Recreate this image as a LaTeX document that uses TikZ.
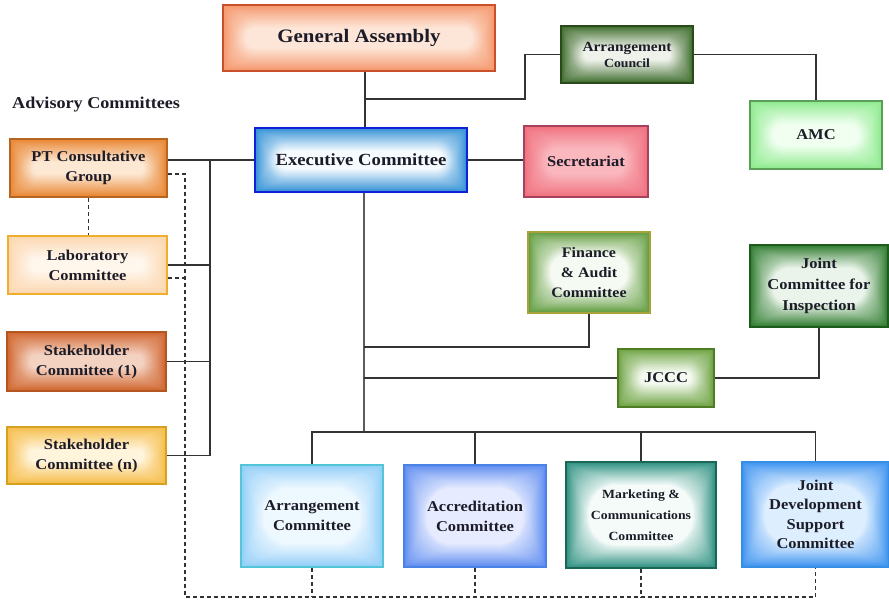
\documentclass[tikz,border=0pt]{standalone}
\usepackage{fontspec}
\setmainfont{Liberation Serif}[FakeStretch=1.1]

% colours: ink for text, linec for connectors
\definecolor{ink}{HTML}{1C1C28}
\definecolor{linec}{HTML}{333333}
\colorlet{glowin}{white}
\colorlet{glowout}{gray}
\colorlet{glowline}{black}

% soft glow: nested rounded rectangles fading from the edge colour to a pale centre
\newdimen\glowh
\newcommand\glowfill{%
  \pgfextracty{\glowh}{\pgfpointdiff{\pgfpointanchor{path picture bounding box}{south west}}%
                                    {\pgfpointanchor{path picture bounding box}{north east}}}%
  \fill[glowout] (path picture bounding box.south west) rectangle (path picture bounding box.north east);
  \pgfmathsetmacro{\gstep}{min(0.95,(\glowh/2-6)/24)}%
  \foreach \gi in {1,...,24}{%
    \pgfmathsetmacro{\gd}{\gi*\gstep}%
    \pgfmathsetmacro{\gr}{min(1.6*\gd,0.9*(\glowh/2-\gd))}%
    \pgfmathsetmacro{\gp}{100*(1-(\gi/24)^0.9)}%
    \fill[glowout!\gp!glowin, rounded corners=\gr pt]
      ([shift={(\gd pt,\gd pt)}]path picture bounding box.south west) rectangle
      ([shift={(-\gd pt,-\gd pt)}]path picture bounding box.north east);
  }%
}

\tikzset{
  box/.style n args={3}{
    /utils/exec={\definecolor{glowin}{HTML}{#1}\definecolor{glowout}{HTML}{#2}\definecolor{glowline}{HTML}{#3}},
    draw=glowline, line width=1.8pt,
    path picture={\glowfill}, align=center, text=ink, inner sep=2pt,
    font=\bfseries\fontsize{15}{20}\selectfont},
  conn/.style={draw=linec, line width=1.3pt},
  dashline/.style={draw=linec, line width=1.2pt, dash pattern=on 4pt off 3pt},
}

\begin{document}
\begin{tikzpicture}[x=1pt,y=-1pt]
\useasboundingbox (0,0) rectangle (889,600);
\fill[white] (0,0) rectangle (889,600);

% ---- top level ----
\node[box={FDE6D8}{F5956A}{C9502A}, line width=2.2pt, minimum width=272pt, minimum height=66pt,
      font=\bfseries\fontsize{19}{22}\selectfont] (ga) at (359,38) {General Assembly};
\node[box={EEF2EA}{3D6B2B}{2B4A1B}, minimum width=132pt, minimum height=57pt,
      font=\bfseries\fontsize{14}{16}\selectfont] (ac) at (627,54.5)
      {Arrangement\\{\fontsize{12.5}{16}\selectfont Council}};
\node[box={F0FFF0}{8BEA8B}{5A9E5A}, minimum width=132pt, minimum height=68pt] (amc) at (816,135) {AMC};
\node[box={F6FBFF}{2F8FD6}{1020D8}, line width=2.6pt, minimum width=212pt, minimum height=64pt,
      font=\bfseries\fontsize{17}{20}\selectfont] (exec) at (361,160) {Executive Committee};
\node[box={FAB8BE}{EF6F7D}{A8405E}, minimum width=124pt, minimum height=71pt] (sec) at (586,161.5) {Secretariat};

% ---- advisory committees ----
\node[font=\bfseries\fontsize{16.5}{18}\selectfont, text=ink, anchor=base west, inner sep=0pt]
      (adv) at (12,108) {Advisory Committees};
\node[box={FDE8D4}{E8842F}{B8651F}, minimum width=157pt, minimum height=58pt] (pt) at (88.5,168) {PT Consultative\\Group};
\node[box={FFF6EC}{FCD6AE}{F0AE2E}, minimum width=159pt, minimum height=58pt] (lab) at (87.5,265) {Laboratory\\Committee};
\node[box={F4D2C2}{D0642C}{B4561F}, minimum width=159pt, minimum height=59pt] (sh1) at (86.5,361.5) {Stakeholder\\Committee (1)};
\node[box={FFF4DC}{F6BC46}{D6A11E}, minimum width=159pt, minimum height=57pt] (shn) at (86.5,455.5) {Stakeholder\\Committee (n)};

% ---- committees on the right ----
\node[box={F5FAF2}{5E9A3A}{A8A23A}, minimum width=122pt, minimum height=81pt,
      font=\bfseries\fontsize{14.5}{20}\selectfont] (fin) at (589,272.5) {Finance\\\& Audit\\Committee};
\node[box={EAF4EA}{2C7A2C}{1D5C1D}, minimum width=138pt, minimum height=82pt,
      font=\bfseries\fontsize{15}{21}\selectfont] (jci) at (819,286) {Joint\\Committee for\\Inspection};
\node[box={F5FAF0}{6BA23F}{4F7D25}, minimum width=96pt, minimum height=58pt] (jccc) at (666,378) {JCCC};

% ---- standing committees ----
\node[box={EEF8FF}{8FCDF7}{52C6D6}, minimum width=142pt, minimum height=102pt] (arrc) at (312,516) {Arrangement\\Committee};
\node[box={E6EBFF}{5C8CF0}{4A82E6}, minimum width=142pt, minimum height=102pt] (acc) at (475,516) {Accreditation\\Committee};
\node[box={F4FBF9}{2A8F7F}{1C6656}, minimum width=150pt, minimum height=106pt,
      font=\bfseries\fontsize{12.5}{21}\selectfont] (mkt) at (641,515) {Marketing \&\\Communications\\Committee};
\node[box={DDEEFF}{3B92F0}{3590E4}, minimum width=147pt, minimum height=105pt,
      font=\bfseries\fontsize{15}{19.5}\selectfont] (jd) at (815.5,514.5) {Joint\\Development\\Support\\Committee};

% ---- junction points ----
\coordinate (jGA) at (365,99);
\coordinate (kAC) at (525,99);
\coordinate (bL) at (210,159);
\coordinate (bB) at (364,432);
\coordinate (kF) at (364,347);
\coordinate (dL) at (185,597);

% ---- solid connectors ----
\draw[conn] (ga.south -| jGA) -- (exec.north -| jGA);
\draw[conn] (jGA) -- (kAC) |- (ac.west);
\draw[conn] (ac.east) -| (amc.north);
\draw[conn] (exec.east) -- (exec.east -| sec.west);
\draw[conn] (exec.west) -- (exec.west -| pt.east);
\draw[conn] (exec.west -| bL) -- (shn.east -| bL);
\draw[conn] (lab.east) -- (lab.east -| bL);
\draw[conn] (sh1.east) -- (sh1.east -| bL);
\draw[conn] (shn.east) -- (shn.east -| bL);
\draw[conn, draw=linec!80] (exec.south -| bB) -- (bB);
\draw[conn] (fin.south) |- (kF);
\draw[conn] (jccc.west) -- (jccc.west -| bB);
\draw[conn] (jci.south) |- (jccc.east);
\draw[conn] (arrc.north) -- (arrc.north |- bB) -- (jd.north |- bB) -- (jd.north);
\draw[conn] (acc.north) -- (acc.north |- bB);
\draw[conn] (mkt.north) -- (mkt.north |- bB);

% ---- dashed links among the advisory and standing committees ----
\draw[dashline] (pt.south) -- (pt.south |- lab.north);
\draw[dashline] ([yshift=-6pt]pt.east) -| (dL) -| (jd.south);
\draw[dashline] ([yshift=-13pt]lab.east) -- ([yshift=-13pt]lab.east -| dL);
\draw[dashline] (arrc.south) -- (arrc.south |- dL);
\draw[dashline] (acc.south) -- (acc.south |- dL);
\draw[dashline] (mkt.south) -- (mkt.south |- dL);
\end{tikzpicture}
\end{document}
